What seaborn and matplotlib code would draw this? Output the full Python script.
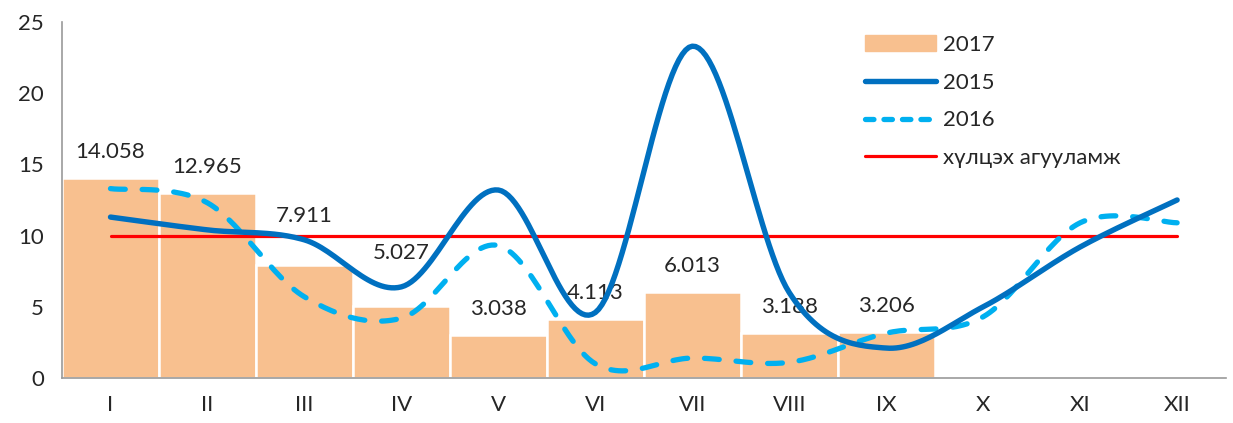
import numpy as np
import pandas as pd
import seaborn as sns
import matplotlib as mpl
mpl.use('Agg')
from matplotlib import pyplot as plt
from matplotlib.lines import Line2D
from matplotlib.patches import Patch

months = ['I', 'II', 'III', 'IV', 'V', 'VI', 'VII', 'VIII', 'IX', 'X', 'XI', 'XII']
vals_2017 = [14.058, 12.965, 7.911, 5.027, 3.038, 4.113, 6.013, 3.188, 3.206]
vals_2015 = [11.3, 10.4, 9.7, 6.4, 13.2, 4.6, 23.3, 6.0, 2.1, 5.0, 9.2, 12.5]
vals_2016 = [13.3, 12.3, 5.7, 4.2, 9.3, 1.0, 1.4, 1.1, 3.15, 4.3, 10.9, 10.9]
limit = [10] * 12
label_offsets = [26, 26, 49, 53, 26, 26, 26, 26, 26]  # px above the bar

c_bar = '#F8C08F'
c_2015 = '#0070C0'
c_2016 = '#00B0F0'
c_red = '#FF0000'
c_text = '#262626'
c_axis = '#9A9A9A'
fs = 16


def smooth(y, n=30):
    # bezier smoothing like the spreadsheet "smoothed line" option
    x = np.arange(len(y), dtype=float)
    y = np.asarray(y, dtype=float)
    pts = np.column_stack([x, y])
    out = []
    for i in range(len(pts) - 1):
        p0 = pts[i - 1] if i > 0 else pts[i]
        p1 = pts[i]
        p2 = pts[i + 1]
        p3 = pts[i + 2] if i + 2 < len(pts) else pts[i + 1]
        c1 = p1 + (p2 - p0) / 6
        c2 = p2 - (p3 - p1) / 6
        t = np.linspace(0, 1, n)[:, None]
        seg = ((1 - t) ** 3) * p1 + 3 * ((1 - t) ** 2) * t * c1 + 3 * (1 - t) * t ** 2 * c2 + t ** 3 * p2
        out.append(seg if i == 0 else seg[1:])
    out = np.vstack(out)
    return out[:, 0], out[:, 1]


sns.set_style('white')
plt.rcParams['font.family'] = ['Lato', 'DejaVu Sans']

fig = plt.figure(figsize=(12.33, 4.23), dpi=100)
ax = fig.add_axes([0.0503, 0.1064, 0.9437, 0.8416])

df = pd.DataFrame({'month': months[:len(vals_2017)], 'value': vals_2017})
sns.barplot(data=df, x='month', y='value', order=months, color=c_bar, width=1.0,
            edgecolor='white', linewidth=1.8, saturation=1, ax=ax)

x15, y15 = smooth(vals_2015)
x16, y16 = smooth(vals_2016)
ax.plot(np.arange(12), limit, color=c_red, lw=2.3, zorder=3)
ax.plot(x16, y16, color=c_2016, lw=3.8, dashes=(2.8, 3.2), dash_capstyle='round', zorder=4)
ax.plot(x15, y15, color=c_2015, lw=3.9, zorder=5, solid_capstyle='round')

for i, v in enumerate(vals_2017):
    ax.annotate(f'{v:.3f}', (i, v), xytext=(0, label_offsets[i] * 0.72),
                textcoords='offset points', ha='center', va='center',
                fontsize=fs, color=c_text)

ax.set_xlim(-0.5, 11.5)
ax.set_ylim(0, 25)
ax.set_yticks([0, 5, 10, 15, 20, 25])
ax.set_xlabel('')
ax.set_ylabel('')

sns.despine(ax=ax)
for s in ['left', 'bottom']:
    ax.spines[s].set_color(c_axis)
    ax.spines[s].set_linewidth(1.2)

ax.set_xticks(np.arange(12))
ax.set_xticklabels(months)
ax.set_xticks(np.arange(-0.5, 12, 1), minor=True)
ax.tick_params(axis='x', which='major', length=0, pad=12, labelsize=fs, labelcolor=c_text)
ax.tick_params(axis='x', which='minor', length=7, width=1.2, color=c_axis, direction='out')
ax.tick_params(axis='y', length=5, width=1.2, color=c_axis, direction='out', labelsize=fs,
               labelcolor=c_text, pad=8)

handles = [Patch(color=c_bar),
           Line2D([], [], color=c_2015, lw=3.9, solid_capstyle='round'),
           Line2D([], [], color=c_2016, lw=3.8, dashes=(1.6, 1.9), dash_capstyle='round'),
           Line2D([], [], color=c_red, lw=2.3)]
ax.legend(handles, ['2017', '2015', '2016', 'хүлцэх агууламж'],
          loc='upper left', bbox_to_anchor=(0.673, 1.02), frameon=False, fontsize=fs,
          handlelength=3.2, handleheight=0.7, labelspacing=0.8, handletextpad=0.3,
          labelcolor=c_text)

plt.savefig('out.png', dpi=100)
